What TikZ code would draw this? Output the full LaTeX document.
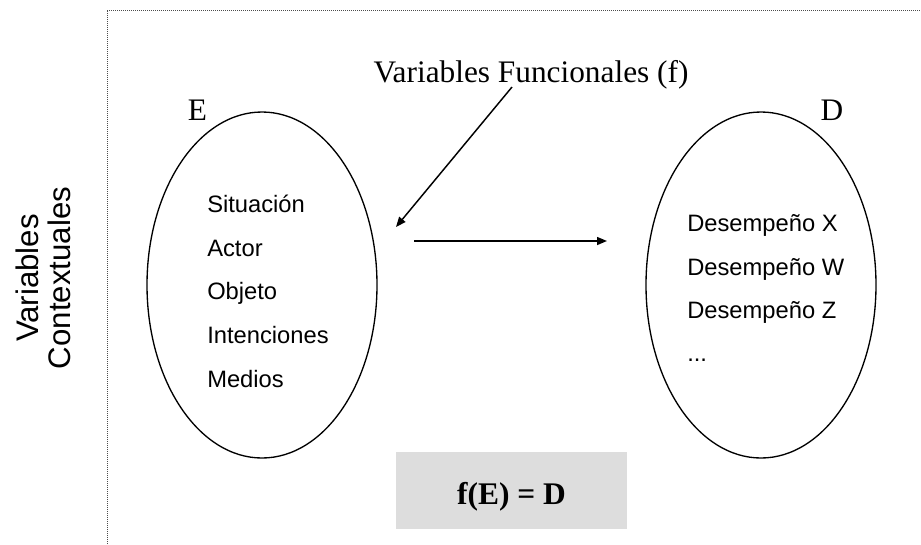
\documentclass[tikz,border=0pt]{standalone}
\usepackage{fontspec}
\setmainfont{Liberation Serif}
\setsansfont{Liberation Sans}
\usetikzlibrary{shapes.geometric,arrows.meta}
\definecolor{boxgray}{HTML}{DDDDDD}
\begin{document}
\begin{tikzpicture}[x=0.75pt,y=-0.75pt,
  setellipse/.style={ellipse,draw,line width=1pt,minimum width=172.5pt,minimum height=259.5pt,inner sep=0pt},
  item/.style={anchor=base west,inner sep=0pt,font=\sffamily\fontsize{17.8}{20}\selectfont},
  setlabel/.style={anchor=base,inner sep=0pt,font=\fontsize{23.5}{26}\selectfont},
  vlabel/.style={anchor=base,rotate=90,inner sep=0pt,font=\sffamily\fontsize{23.4}{26}\selectfont},
  arr/.style={-{Triangle[length=7.5pt,width=6pt]},line width=1.1pt},
  border/.style={draw=black!70,line width=0.75pt,dash pattern=on 0.75pt off 0.75pt},
  formula/.style={fill=boxgray,minimum width=173.25pt,minimum height=57.75pt,inner sep=0pt,text height=22pt,text depth=1.75pt,font=\bfseries\fontsize{23.6}{26}\selectfont}]
\useasboundingbox (0,0) rectangle (921,544);
% dotted frame
\coordinate (bl) at (107,544);
\coordinate (tl) at (107,10);
\coordinate (tr) at (921,10);
\draw[border] (bl) -- (tl) -- (tr);
% vertical label
\node[vlabel] (v1) at (38,278) {Variables};
\node[vlabel] (v2) at (70,278) {Contextuales};
% sets
\node[setellipse] (E) at (262,285) {};
\node[setellipse] (D) at (761,285) {};
\node[setlabel] (Elab) at (197.5,120) {E};
\node[setlabel] (Dlab) at (832,120) {D};
% E items
\node[item] (e1) at (207,212) {Situación};
\node[item] (e2) at (207,256) {Actor};
\node[item] (e3) at (207,299) {Objeto};
\node[item] (e4) at (207,343) {Intenciones};
\node[item] (e5) at (207,387) {Medios};
% D items
\node[item] (d1) at (687,231) {Desempeño X};
\node[item] (d2) at (687,275) {Desempeño W};
\node[item] (d3) at (687,318) {Desempeño Z};
\node[item] (d4) at (687,361) {...};
% functional variables
\node[setlabel] (fv) at (531,82) {Variables Funcionales (f)};
\coordinate (f1) at (512,87);
\coordinate (f2) at (396,227);
\draw[arr] (f1) -- (f2);
\coordinate (m1) at (414,241);
\coordinate (m2) at (607,241);
\draw[arr] (m1) -- (m2);
% formula
\node[formula] (fx) at (511.5,490.5) {f(E) = D};
\end{tikzpicture}
\end{document}
